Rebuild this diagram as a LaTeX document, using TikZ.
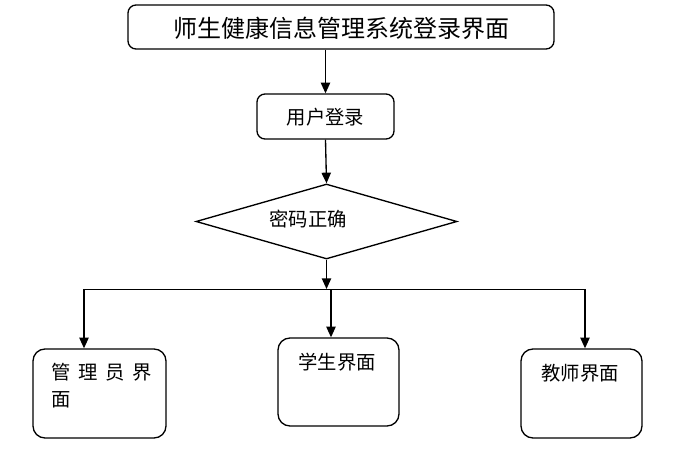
\documentclass[tikz,border=0pt]{standalone}
\usepackage{fontspec}
\newfontfamily\cjk{Noto Sans CJK SC}
\usetikzlibrary{arrows.meta,shapes.geometric}
\begin{document}
\begin{tikzpicture}[x=0.75pt,y=-0.75pt,
  line width=1pt,
  box/.style={draw,rounded corners=6pt,inner sep=0pt},
  lowbox/.style={draw,rounded corners=9pt,inner sep=0pt,minimum width=90.75pt,minimum height=66.75pt},
  txt/.style={font=\cjk\fontsize{14.5}{20}\selectfont,inner sep=0pt},
  arr/.style={-{Triangle[length=8pt,width=7pt]}}]
\useasboundingbox (0,0) rectangle (689,460);
% boxes
\node[box,minimum width=319.5pt,minimum height=33pt] (title) at (341,27) {};
\node[txt,font=\cjk\fontsize{18}{20}\selectfont] (titletext) at (341,28) {师生健康信息管理系统登录界面};
\node[box,minimum width=102.75pt,minimum height=33.75pt] (user) at (325.5,116.5) {};
\node[txt] (usertext) at (325.5,117) {用户登录};
\node[draw,diamond,aspect=3.48,minimum width=195.75pt,minimum height=56.25pt,inner sep=0pt] (pwd) at (326.5,221.5) {};
\node[txt] (pwdtext) at (308,219) {密码正确};
\node[lowbox,minimum width=99.75pt] (admin) at (99.5,393.5) {};
\node[txt,anchor=north west,align=left] (admintext) at (51,363) {管\,\ 理\,\ 员\,\ 界\\面};
\node[lowbox,minimum height=66pt] (student) at (338.5,382) {};
\node[txt] (studenttext) at (337,362) {学生界面};
\node[lowbox] (teacher) at (581.5,393.5) {};
\node[txt] (teachertext) at (580,373) {教师界面};
% branch coordinates
\coordinate (bm) at (326.5,289);
\coordinate (bl) at (84,289);
\coordinate (br) at (585,289);
\coordinate (bs) at (331,289);
% connectors
\draw[arr] (title.south -| user.north) -- (user.north);
\draw[arr] (user.south) -- (pwd.north);
\draw[arr] (pwd.south) -- (bm);
\draw[line width=0.75pt] (bl) -- (br);
\draw[arr] (bl) -- (bl |- admin.north);
\draw[arr] (bs) -- (bs |- student.north);
\draw[arr] (br) -- (br |- teacher.north);
\end{tikzpicture}
\end{document}
